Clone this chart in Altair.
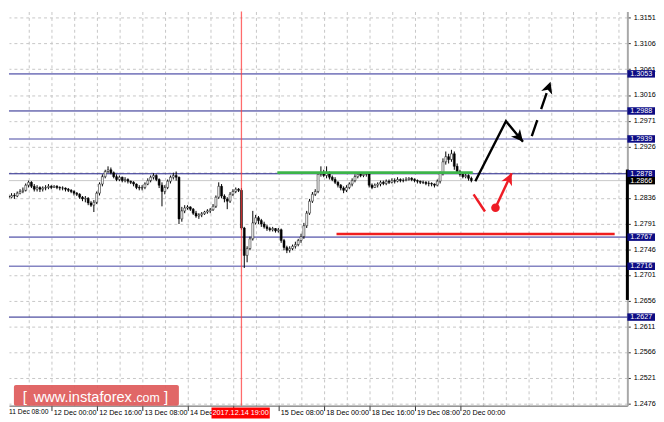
import json
import altair as alt
import pandas as pd

# ---------------- data ----------------
bar_index = list(range(165))

opens = [1.2835, 1.2839, 1.2837, 1.2840, 1.2839, 1.2844, 1.2847, 1.2849, 1.2858, 1.2863,
         1.2856, 1.2851, 1.2854, 1.2851, 1.2853, 1.2854, 1.2856, 1.2854, 1.2856, 1.2854,
         1.2853, 1.2853, 1.2851, 1.2849, 1.2847, 1.2844, 1.2842, 1.2837, 1.2834, 1.2835,
         1.2827, 1.2823, 1.2828, 1.2844, 1.2860, 1.2873, 1.2882, 1.2885, 1.2880, 1.2873,
         1.2868, 1.2872, 1.2866, 1.2868, 1.2865, 1.2863, 1.2860, 1.2854, 1.2853, 1.2854,
         1.2860, 1.2866, 1.2872, 1.2875, 1.2868, 1.2858, 1.2847, 1.2854, 1.2865, 1.2872,
         1.2875, 1.2872, 1.2799, 1.2813, 1.2818, 1.2820, 1.2816, 1.2809, 1.2804, 1.2806,
         1.2808, 1.2811, 1.2813, 1.2815, 1.2821, 1.2837, 1.2856, 1.2839, 1.2834, 1.2830,
         1.2842, 1.2847, 1.2851, 1.2849, 1.2783, 1.2735, 1.2747, 1.2764, 1.2792, 1.2801,
         1.2796, 1.2790, 1.2785, 1.2782, 1.2780, 1.2782, 1.2778, 1.2780, 1.2761, 1.2749,
         1.2744, 1.2747, 1.2751, 1.2754, 1.2761, 1.2768, 1.2787, 1.2809, 1.2830, 1.2842,
         1.2847, 1.2877, 1.2879, 1.2875, 1.2880, 1.2872, 1.2868, 1.2863, 1.2858, 1.2853,
         1.2849, 1.2854, 1.2860, 1.2866, 1.2873, 1.2877, 1.2875, 1.2877, 1.2879, 1.2858,
         1.2854, 1.2858, 1.2860, 1.2863, 1.2861, 1.2865, 1.2863, 1.2866, 1.2865, 1.2868,
         1.2866, 1.2866, 1.2868, 1.2870, 1.2868, 1.2866, 1.2865, 1.2863, 1.2863, 1.2861,
         1.2861, 1.2860, 1.2858, 1.2865, 1.2879, 1.2899, 1.2908, 1.2903, 1.2913, 1.2891,
         1.2882, 1.2877, 1.2873, 1.2875, 1.2870]

highs = [1.2842, 1.2842, 1.2844, 1.2844, 1.2847, 1.2851, 1.2854, 1.2861, 1.2866, 1.2865,
         1.2860, 1.2858, 1.2856, 1.2856, 1.2858, 1.2860, 1.2858, 1.2858, 1.2858, 1.2856,
         1.2856, 1.2854, 1.2853, 1.2851, 1.2849, 1.2846, 1.2844, 1.2839, 1.2839, 1.2837,
         1.2830, 1.2832, 1.2847, 1.2863, 1.2877, 1.2885, 1.2891, 1.2889, 1.2882, 1.2877,
         1.2875, 1.2873, 1.2872, 1.2870, 1.2866, 1.2865, 1.2861, 1.2858, 1.2858, 1.2863,
         1.2870, 1.2875, 1.2879, 1.2877, 1.2870, 1.2863, 1.2858, 1.2868, 1.2875, 1.2880,
         1.2882, 1.2873, 1.2820, 1.2823, 1.2823, 1.2821, 1.2818, 1.2813, 1.2809, 1.2811,
         1.2813, 1.2816, 1.2818, 1.2825, 1.2840, 1.2863, 1.2860, 1.2842, 1.2837, 1.2846,
         1.2851, 1.2854, 1.2853, 1.2853, 1.2785, 1.2751, 1.2768, 1.2813, 1.2806, 1.2804,
         1.2799, 1.2794, 1.2789, 1.2785, 1.2785, 1.2783, 1.2783, 1.2782, 1.2764, 1.2752,
         1.2751, 1.2754, 1.2759, 1.2764, 1.2773, 1.2792, 1.2813, 1.2834, 1.2846, 1.2851,
         1.2880, 1.2891, 1.2885, 1.2891, 1.2882, 1.2875, 1.2872, 1.2865, 1.2860, 1.2856,
         1.2858, 1.2863, 1.2870, 1.2877, 1.2880, 1.2879, 1.2880, 1.2880, 1.2880, 1.2861,
         1.2861, 1.2863, 1.2866, 1.2866, 1.2868, 1.2868, 1.2870, 1.2870, 1.2872, 1.2870,
         1.2870, 1.2872, 1.2872, 1.2872, 1.2870, 1.2868, 1.2866, 1.2866, 1.2865, 1.2865,
         1.2863, 1.2861, 1.2868, 1.2882, 1.2905, 1.2917, 1.2913, 1.2920, 1.2917, 1.2896,
         1.2885, 1.2880, 1.2879, 1.2877, 1.2873]

lows = [1.2832, 1.2834, 1.2835, 1.2834, 1.2837, 1.2842, 1.2844, 1.2847, 1.2854, 1.2853,
        1.2847, 1.2847, 1.2846, 1.2847, 1.2849, 1.2851, 1.2851, 1.2853, 1.2851, 1.2849,
        1.2849, 1.2847, 1.2846, 1.2844, 1.2840, 1.2839, 1.2834, 1.2830, 1.2828, 1.2823,
        1.2820, 1.2811, 1.2825, 1.2840, 1.2856, 1.2870, 1.2879, 1.2877, 1.2870, 1.2865,
        1.2865, 1.2863, 1.2863, 1.2861, 1.2860, 1.2856, 1.2851, 1.2849, 1.2849, 1.2851,
        1.2858, 1.2863, 1.2868, 1.2865, 1.2853, 1.2821, 1.2842, 1.2851, 1.2861, 1.2868,
        1.2866, 1.2790, 1.2794, 1.2809, 1.2815, 1.2813, 1.2806, 1.2801, 1.2799, 1.2802,
        1.2806, 1.2808, 1.2809, 1.2813, 1.2818, 1.2834, 1.2835, 1.2828, 1.2816, 1.2827,
        1.2839, 1.2844, 1.2846, 1.2780, 1.2713, 1.2723, 1.2744, 1.2761, 1.2789, 1.2790,
        1.2785, 1.2782, 1.2778, 1.2777, 1.2777, 1.2775, 1.2775, 1.2757, 1.2744, 1.2739,
        1.2740, 1.2744, 1.2747, 1.2751, 1.2757, 1.2764, 1.2783, 1.2806, 1.2827, 1.2839,
        1.2844, 1.2873, 1.2872, 1.2870, 1.2868, 1.2865, 1.2860, 1.2854, 1.2849, 1.2844,
        1.2846, 1.2851, 1.2856, 1.2863, 1.2870, 1.2872, 1.2872, 1.2873, 1.2854, 1.2851,
        1.2853, 1.2854, 1.2856, 1.2858, 1.2858, 1.2860, 1.2861, 1.2861, 1.2863, 1.2863,
        1.2863, 1.2865, 1.2866, 1.2865, 1.2863, 1.2861, 1.2860, 1.2860, 1.2858, 1.2856,
        1.2856, 1.2854, 1.2856, 1.2861, 1.2875, 1.2894, 1.2896, 1.2899, 1.2885, 1.2879,
        1.2873, 1.2870, 1.2870, 1.2866, 1.2863]

closes = [1.2839, 1.2837, 1.2840, 1.2839, 1.2844, 1.2847, 1.2849, 1.2858, 1.2863, 1.2856,
          1.2851, 1.2854, 1.2851, 1.2853, 1.2854, 1.2856, 1.2854, 1.2856, 1.2854, 1.2853,
          1.2853, 1.2851, 1.2849, 1.2847, 1.2844, 1.2842, 1.2837, 1.2834, 1.2835, 1.2827,
          1.2823, 1.2828, 1.2844, 1.2860, 1.2873, 1.2882, 1.2885, 1.2880, 1.2873, 1.2868,
          1.2872, 1.2866, 1.2868, 1.2865, 1.2863, 1.2860, 1.2854, 1.2853, 1.2854, 1.2860,
          1.2866, 1.2872, 1.2875, 1.2868, 1.2858, 1.2847, 1.2854, 1.2865, 1.2872, 1.2875,
          1.2872, 1.2799, 1.2813, 1.2818, 1.2820, 1.2816, 1.2809, 1.2804, 1.2806, 1.2808,
          1.2811, 1.2813, 1.2815, 1.2821, 1.2837, 1.2856, 1.2839, 1.2834, 1.2830, 1.2842,
          1.2847, 1.2851, 1.2849, 1.2783, 1.2735, 1.2747, 1.2764, 1.2792, 1.2801, 1.2796,
          1.2790, 1.2785, 1.2782, 1.2780, 1.2782, 1.2778, 1.2780, 1.2761, 1.2749, 1.2744,
          1.2747, 1.2751, 1.2754, 1.2761, 1.2768, 1.2787, 1.2809, 1.2830, 1.2842, 1.2847,
          1.2877, 1.2879, 1.2875, 1.2880, 1.2872, 1.2868, 1.2863, 1.2858, 1.2853, 1.2849,
          1.2854, 1.2860, 1.2866, 1.2873, 1.2877, 1.2875, 1.2877, 1.2879, 1.2858, 1.2854,
          1.2858, 1.2860, 1.2863, 1.2861, 1.2865, 1.2863, 1.2866, 1.2865, 1.2868, 1.2866,
          1.2866, 1.2868, 1.2870, 1.2868, 1.2866, 1.2865, 1.2863, 1.2863, 1.2861, 1.2861,
          1.2860, 1.2858, 1.2865, 1.2879, 1.2899, 1.2908, 1.2903, 1.2913, 1.2891, 1.2882,
          1.2877, 1.2873, 1.2875, 1.2870, 1.2866]

levels_light = [1.3053, 1.2939, 1.2767, 1.2716]
levels_dark = [1.2988, 1.2878, 1.2627]
level_labels = [1.3053, 1.2988, 1.2939, 1.2878, 1.2767, 1.2716, 1.2627]
bid_price = [1.2866]

y_ticks = [1.3151, 1.3106, 1.3061, 1.3016, 1.2971, 1.2926, 1.2881, 1.2836,
           1.2791, 1.2746, 1.2701, 1.2656, 1.2611, 1.2566, 1.2521, 1.2476]
y_hidden_label = 1.2881   # covered by the level boxes in the original
x_grid = [0, 8, 16, 24, 32, 40, 48, 56, 64, 72, 80, 88, 96, 104, 112, 120, 128,
          136, 144, 152, 160, 168, 176, 184, 192, 200, 208, 216]
x_labels = ["11 Dec 08:00", "12 Dec 00:00", "12 Dec 16:00", "13 Dec 08:00",
            "14 Dec 00:00", "", "15 Dec 08:00", "18 Dec 00:00",
            "18 Dec 16:00", "19 Dec 08:00", "20 Dec 00:00"]

cursor_bar = [83]
cursor_label = ["2017.12.14 19:00"]
first_label = ["11 Dec 08:00"]
wm_parts = ["[", "www.instaforex", ".com", "]"]

green_i = [95.65, 164.5]
green_p = [1.2880, 1.2880]
redh_i = [116.5, 214.5]
redh_p = [1.27725, 1.27725]

arrow_black_i = [165.4, 176.2, 182.2]
arrow_black_p = [1.2865, 1.2970, 1.2934]
arrow_dash_i = [185.3, 191.9]
arrow_dash_p = [1.2944, 1.3039]
red_stroke_i = [164.8, 168.8]
red_stroke_p = [1.2842, 1.2812]
red_arrow_i = [172.5, 178.2]
red_arrow_p = [1.28185, 1.2879]
black_head_i = [182.2, 191.9]
black_head_p = [1.2934, 1.3039]
black_head_angle = [140, 19]
red_head_i = [178.2]
red_head_p = [1.2879]
red_head_angle = [25]
red_dot_i = [172.5]
red_dot_p = [1.28185]

# ---------------- chart ----------------
W, H = 626, 399
FONT = "Liberation Sans"
NAVY = "#0c0c84"

xscale = alt.Scale(domain=[2.84, 217.23], nice=False, zero=False)
yscale = alt.Scale(domain=[1.24719, 1.31622], nice=False, zero=False)

lab_test = "datum.value % 16 === 0 && datum.value <= 160"
xaxis = alt.Axis(
    values=x_grid, grid=True, gridColor="#c6c6c6", gridDash=[3, 3], gridWidth=1,
    labelExpr=f"{lab_test} ? {json.dumps(x_labels)}[datum.value / 16] : ''",
    labelAlign="left", labelBaseline="top", labelOffset=2, labelPadding=-2,
    labelFont=FONT, labelFontSize=7.3, labelColor="black",
    labelFlush=False, labelOverlap=False,
    tickSize=5, tickColor="#333333",
    tickOpacity={"condition": {"test": lab_test, "value": 1}, "value": 0},
    domainColor="#555555", domainWidth=1, zindex=0, title=None,
)
yaxis = alt.Axis(
    orient="right", values=y_ticks, grid=True, gridColor="#c6c6c6",
    labelExpr=f"abs(datum.value - {y_hidden_label}) < 0.00001 ? '' : format(datum.value, '.4f')",
    gridDash=[3, 3], gridWidth=1, labelAlign="left", labelBaseline="middle",
    labelPadding=3, labelFont=FONT, labelFontSize=7.3, labelColor="black",
    labelFlush=False, labelOverlap=False, tickSize=3, tickColor="#333333",
    domainColor="#a8a8a8", domainWidth=2, zindex=0, title=None,
)

X = lambda f: alt.X(f"{f}:Q", scale=xscale, axis=xaxis, title=None)
Y = lambda f: alt.Y(f"{f}:Q", scale=yscale, axis=yaxis, title=None)

candles = pd.DataFrame({"i": bar_index, "o": opens, "h": highs, "l": lows, "c": closes})

def line_df(xs, ys):
    return pd.DataFrame({"i": xs, "p": ys})

lv_light = alt.Chart(pd.DataFrame({"p": levels_light})).mark_rule(
    color="#8484c2", strokeWidth=1.6).encode(y=Y("p"))
lv_dark = alt.Chart(pd.DataFrame({"p": levels_dark})).mark_rule(
    color="#1e1e88", strokeWidth=1).encode(y=Y("p"))
bid_line = alt.Chart(pd.DataFrame({"p": bid_price})).mark_rule(
    color="#c8c8c8", strokeWidth=1).encode(y=Y("p"))

wicks = alt.Chart(candles).mark_rule(color="black", strokeWidth=1, clip=True).encode(
    x=X("i"), y=Y("l"), y2="h:Q")
bodies = alt.Chart(candles).mark_bar(size=2, stroke="black", strokeWidth=0.5, clip=True).encode(
    x=X("i"), y=Y("o"), y2="c:Q",
    fill=alt.condition("datum.c >= datum.o", alt.value("white"), alt.value("black")))

green = alt.Chart(line_df(green_i, green_p)).mark_line(
    color="#3cb44a", strokeWidth=3).encode(x=X("i"), y=Y("p"))
redh = alt.Chart(line_df(redh_i, redh_p)).mark_line(
    color="#f01e1e", strokeWidth=2.5).encode(x=X("i"), y=Y("p"))

cursor = alt.Chart(pd.DataFrame({"i": cursor_bar})).mark_rule(
    stroke="#ff3b3b", strokeWidth=1.3, strokeOpacity=0.75).encode(x=X("i"))

arr_black = alt.Chart(line_df(arrow_black_i, arrow_black_p)).mark_line(
    color="black", strokeWidth=2.4).encode(x=X("i"), y=Y("p"))
arr_dash = alt.Chart(line_df(arrow_dash_i, arrow_dash_p)).mark_line(
    color="black", strokeWidth=2.4, strokeDash=[17, 12]).encode(x=X("i"), y=Y("p"))
red_stroke = alt.Chart(line_df(red_stroke_i, red_stroke_p)).mark_line(
    color="#ee1c25", strokeWidth=2.5).encode(x=X("i"), y=Y("p"))
red_arrow = alt.Chart(line_df(red_arrow_i, red_arrow_p)).mark_line(
    color="#ee1c25", strokeWidth=2.5).encode(x=X("i"), y=Y("p"))

HEAD = "M0,0L0.5,1L0,0.72L-0.5,1Z"
heads_black = alt.Chart(pd.DataFrame({"i": black_head_i, "p": black_head_p, "a": black_head_angle})).mark_point(
    shape=HEAD, size=560, filled=True, color="black", opacity=1).encode(
    x=X("i"), y=Y("p"), angle=alt.Angle("a:Q", scale=None))
heads_red = alt.Chart(pd.DataFrame({"i": red_head_i, "p": red_head_p, "a": red_head_angle})).mark_point(
    shape=HEAD, size=560, filled=True, color="#ee1c25", opacity=1).encode(
    x=X("i"), y=Y("p"), angle=alt.Angle("a:Q", scale=None))
red_dot = alt.Chart(line_df(red_dot_i, red_dot_p)).mark_point(
    shape="circle", size=75, filled=True, color="#ee1c25", opacity=1).encode(x=X("i"), y=Y("p"))

# watermark
wm_box = alt.Chart(pd.DataFrame({"t": ["".join(wm_parts)]})).mark_rect(
    color="#de5a5a", opacity=0.92, cornerRadius=2).encode(
    x=alt.value(5), x2=alt.value(172), y=alt.value(378), y2=alt.value(399))
wm_pos = [14, 25, 125.5, 157]
wm_size = [15, 14.8, 12.5, 15]
wm_layers = []
for t, xp, fs in zip(wm_parts, wm_pos, wm_size):
    wm_layers.append(
        alt.Chart(pd.DataFrame({"t": [t]})).mark_text(
            color="white", font=FONT, fontSize=fs, align="left", baseline="alphabetic").encode(
            x=alt.value(xp), y=alt.value(395.5), text="t:N"))

axis_black = alt.Chart(pd.DataFrame({"p": bid_price})).mark_rule(
    color="black", strokeWidth=3).encode(x=alt.value(626), y=alt.value(160), y2=alt.value(292))

BOX = "M-1,-0.27L1,-0.27L1,0.27L-1,0.27Z"
lvl_df = pd.DataFrame({"p": level_labels})
lvl_box = alt.Chart(lvl_df).mark_point(
    shape=BOX, size=784, filled=True, color=NAVY, opacity=1, strokeWidth=0).encode(
    x=alt.value(640), y=Y("p"))
lvl_txt = alt.Chart(lvl_df).mark_text(
    color="white", font=FONT, fontSize=7.3, align="center", baseline="middle").encode(
    x=alt.value(640), y=Y("p"), text=alt.Text("p:Q", format=".4f"))
bid_df = pd.DataFrame({"p": bid_price})
bid_box = alt.Chart(bid_df).mark_point(
    shape=BOX, size=784, filled=True, color="black", opacity=1, strokeWidth=0).encode(
    x=alt.value(640), y=Y("p"))
bid_txt = alt.Chart(bid_df).mark_text(
    color="white", font=FONT, fontSize=7.3, align="center", baseline="middle").encode(
    x=alt.value(640), y=Y("p"), text=alt.Text("p:Q", format=".4f"))

cur_df = pd.DataFrame({"t": cursor_label})
cur_box = alt.Chart(cur_df).mark_rect(color="#ff0000").encode(
    x=alt.value(205), x2=alt.value(264), y=alt.value(401), y2=alt.value(412))
cur_txt = alt.Chart(cur_df).mark_text(
    color="white", font=FONT, fontSize=7.3, align="center", baseline="middle").encode(
    x=alt.value(234.5), y=alt.value(406.5), text="t:N")

first_txt = alt.Chart(pd.DataFrame({"t": first_label})).mark_text(
    color="black", font=FONT, fontSize=6.8, align="left", baseline="middle").encode(
    x=alt.value(0), y=alt.value(405.5), text="t:N")

chart = alt.layer(
    lv_light, lv_dark, bid_line, wicks, bodies, green, redh, cursor,
    arr_black, arr_dash, red_stroke, red_arrow, heads_black, heads_red, red_dot,
    wm_box, *wm_layers, axis_black, lvl_box, lvl_txt, bid_box, bid_txt,
    cur_box, cur_txt, first_txt,
).properties(
    width=W, height=H, padding={"left": 0, "top": 0, "right": 0, "bottom": 0},
    background="white",
).configure_view(strokeWidth=0)

chart.save("out.html", embed_options={"renderer": "svg", "actions": False})
